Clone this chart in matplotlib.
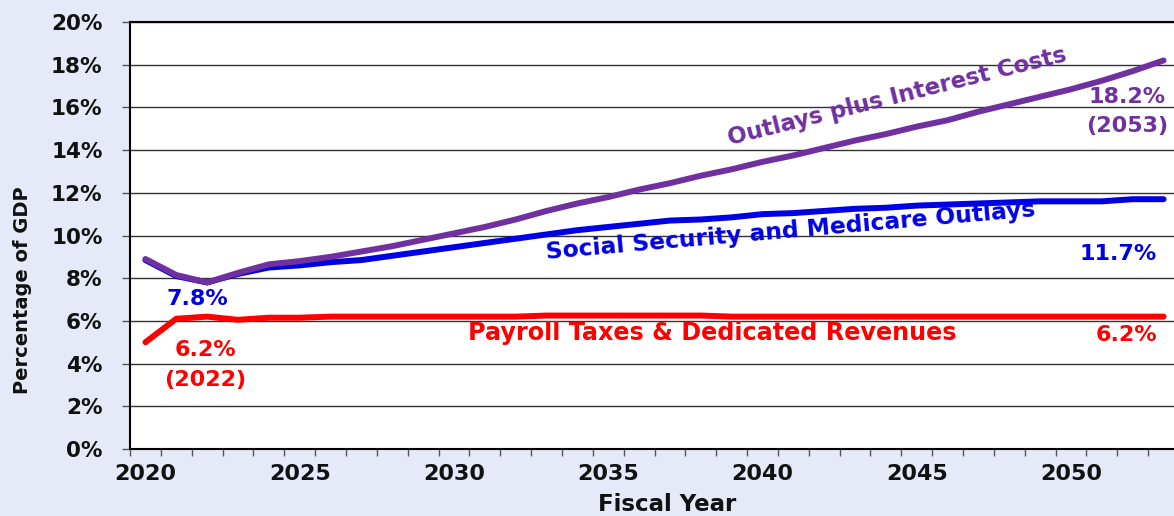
import matplotlib
matplotlib.use("Agg")
import matplotlib.pyplot as plt
from matplotlib.ticker import FixedLocator, FuncFormatter

plt.rcParams['font.family'] = ['DejaVu Sans']

years = list(range(2020, 2054))
outlays_interest = [8.9, 8.15, 7.8, 8.25, 8.65, 8.8, 9.0, 9.25, 9.5, 9.8,
                    10.1, 10.4, 10.75, 11.15, 11.5, 11.8, 12.15, 12.45, 12.8, 13.1,
                    13.45, 13.75, 14.1, 14.45, 14.75, 15.1, 15.4, 15.8, 16.15, 16.5,
                    16.85, 17.25, 17.7, 18.2]
ss_medicare = [8.85, 8.1, 7.8, 8.2, 8.5, 8.6, 8.75, 8.85, 9.05, 9.25,
               9.45, 9.65, 9.85, 10.05, 10.25, 10.4, 10.55, 10.7, 10.75, 10.85,
               11.0, 11.05, 11.15, 11.25, 11.3, 11.4, 11.45, 11.5, 11.55, 11.6,
               11.6, 11.6, 11.7, 11.7]
payroll = [5.0, 6.1, 6.2, 6.05, 6.15, 6.15, 6.2, 6.2, 6.2, 6.2,
           6.2, 6.2, 6.2, 6.25, 6.25, 6.25, 6.25, 6.25, 6.25, 6.2,
           6.2, 6.2, 6.2, 6.2, 6.2, 6.2, 6.2, 6.2, 6.2, 6.2,
           6.2, 6.2, 6.2, 6.2]
yticks = [0, 2, 4, 6, 8, 10, 12, 14, 16, 18, 20]
xlabel_years = [2020, 2025, 2030, 2035, 2040, 2045, 2050]

purple = '#7030A0'
blue = '#0000E6'
red = '#FF0000'
bg = '#E6E9F8'

fig = plt.figure(figsize=(11.74, 5.16), dpi=100, facecolor=bg)
ax = fig.add_axes([130/1174, 67/516, 1049/1174, 427/516])
ax.set_facecolor('white')

x = list(range(len(years)))
ax.plot(x, payroll, color=red, lw=4.3, solid_capstyle='round', zorder=3)
ax.plot(x, ss_medicare, color=blue, lw=4.3, solid_capstyle='round', zorder=3)
ax.plot(x, outlays_interest, color=purple, lw=4.3, solid_capstyle='round', zorder=4)

ax.set_xlim(-0.5, len(years) - 0.5)
ax.set_ylim(0, 20)

# y axis
ax.set_yticks(yticks)
ax.yaxis.set_major_formatter(FuncFormatter(lambda v, p: f"{v:.0f}%"))
ax.grid(axis='y', color='#333333', lw=1.0, zorder=1)
ax.tick_params(axis='y', direction='out', length=5.8, width=1, color='#555555',
               labelsize=15.5, pad=14, labelcolor='#111111')
for lab in ax.get_yticklabels():
    lab.set_fontweight('bold')

# x axis: labels at category centres, ticks at boundaries
ax.xaxis.set_major_locator(FixedLocator([years.index(y) for y in xlabel_years]))
ax.xaxis.set_major_formatter(FuncFormatter(lambda v, p: str(years[int(round(v))])))
ax.xaxis.set_minor_locator(FixedLocator([i - 0.5 for i in range(len(years) + 1)]))
ax.tick_params(axis='x', which='major', length=0, labelsize=16, pad=11, labelcolor='#111111')
ax.tick_params(axis='x', which='minor', direction='out', length=5, width=1, color='#555555')
for lab in ax.get_xticklabels():
    lab.set_fontweight('bold')

for s in ['left', 'bottom', 'top']:
    ax.spines[s].set_color('black')
    ax.spines[s].set_linewidth(1.5)
ax.spines['right'].set_visible(False)

ax.set_ylabel('Percentage of GDP', fontsize=14, fontweight='bold', color='#111111')
ax.yaxis.set_label_coords(-98/1049, (449 - 290) / 427)
ax.set_xlabel('Fiscal Year', fontsize=16.5, fontweight='bold', color='#111111')
ax.xaxis.set_label_coords((667 - 130) / 1049, -44 / 427)

def px(xp, yp):
    return ((xp - 130) / 1049, (449 - yp) / 427)

tk = dict(transform=ax.transAxes, fontweight='bold', ha='center', va='center')
ax.text(*px(897, 97), 'Outlays plus Interest Costs', color=purple, fontsize=16.5,
        rotation=14, **tk)
ax.text(*px(791, 231), 'Social Security and Medicare Outlays', color=blue, fontsize=16.8,
        rotation=5, **tk)
ax.text(*px(712, 333), 'Payroll Taxes & Dedicated Revenues', color=red, fontsize=17.2, **tk)
ax.text(*px(197, 299), '7.8%', color=blue, fontsize=16, **tk)
ax.text(*px(205, 350), '6.2%', color=red, fontsize=16, **tk)
ax.text(*px(205, 380), '(2022)', color=red, fontsize=16, **tk)
ax.text(*px(1127, 97), '18.2%', color=purple, fontsize=16, **tk)
ax.text(*px(1127, 126), '(2053)', color=purple, fontsize=16, **tk)
ax.text(*px(1118, 254), '11.7%', color=blue, fontsize=16, **tk)
ax.text(*px(1126, 335), '6.2%', color=red, fontsize=16, **tk)

fig.savefig('out.png', dpi=100, facecolor=bg)
